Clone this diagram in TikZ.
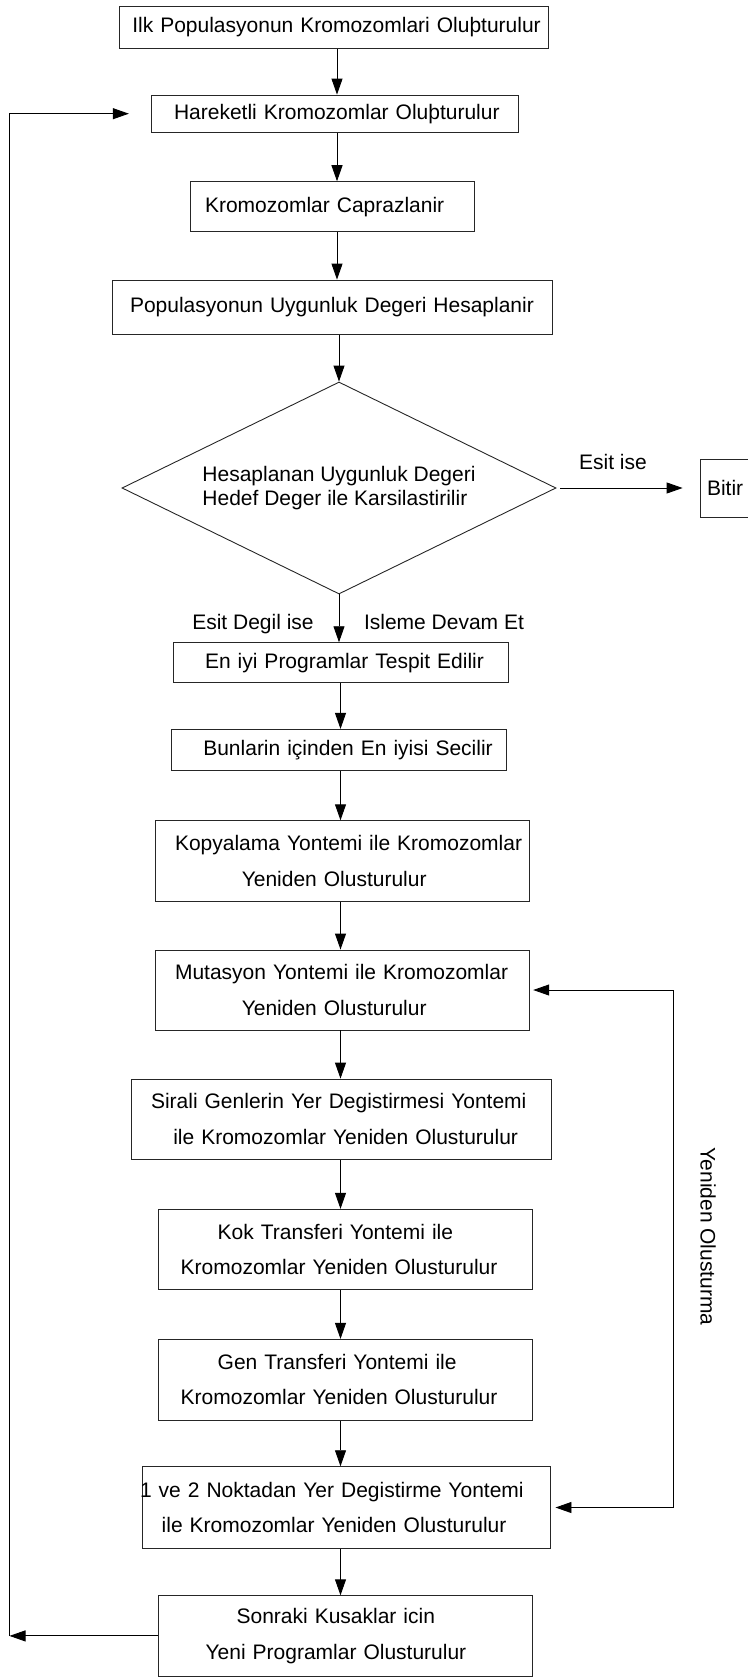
\documentclass[tikz,border=0pt]{standalone}
\usepackage{fontspec}
\setmainfont{Liberation Sans}
\usetikzlibrary{arrows.meta,shapes.geometric}

% one line of box text, indented from the left edge of its box
\newcommand{\boxline}[2]{\hspace*{#1pt}\mbox{#2}}
\newcommand{\boxfont}{\fontsize{21}{35.5}\selectfont}
\newcommand{\diafont}{\fontsize{21}{24}\selectfont}

\tikzset{
  box/.style={draw=black!85, line width=0.9pt, rectangle, inner sep=0pt,
              align=left, font=\boxfont},
  bw/.style={minimum width=#1, text width=#1},
  decision/.style={draw=black!85, line width=0.9pt, diamond, aspect=2.05,
                   inner sep=0pt, align=left, font=\diafont},
  lbl/.style={inner sep=0pt, font=\boxfont},
  arr/.style={line width=0.9pt, -{Triangle[length=16pt,width=11pt]}},
  arrboth/.style={line width=0.9pt,
                  {Triangle[length=16pt,width=11pt]}-{Triangle[length=16pt,width=11pt]}},
}

\begin{document}
\begin{tikzpicture}[x=1pt, y=-1pt]
  \useasboundingbox (0,0) rectangle (747,1677);

  % main column of process steps
  \node[box, bw=429pt, minimum height=42.7pt] (b1) at (333.8,27.35)
    {\boxline{13}{Ilk Populasyonun Kromozomlari Oluþturulur}};
  \node[box, bw=367pt, minimum height=37.3pt] (b2) at (335.2,113.7)
    {\boxline{22.3}{Hareketli Kromozomlar Oluþturulur}};
  \node[box, bw=284.3pt, minimum height=50pt] (b3) at (332.2,206.7)
    {\boxline{15}{Kromozomlar Caprazlanir}};
  \node[box, bw=439.6pt, minimum height=54.3pt] (b4) at (332.5,307.2)
    {\boxline{17.3}{Populasyonun Uygunluk Degeri Hesaplanir}};

  % decision
  \node[decision, minimum width=434pt, minimum height=212pt] (dia) at (339,488)
    {Hesaplanan Uygunluk Degeri\\Hedef Deger ile Karsilastirilir};

  \node[box, anchor=west, bw=100pt, minimum height=58pt] (bitir) at (700,488)
    {\boxline{6.6}{Bitir}};

  \node[box, bw=335pt, minimum height=40pt] (b5) at (340.8,662.7)
    {\boxline{31.7}{En iyi Programlar Tespit Edilir}};
  \node[box, bw=335pt, minimum height=40.7pt] (b6) at (339.2,749.7)
    {\boxline{31.6}{Bunlarin içinden En iyisi Secilir}};
  \node[box, bw=374.3pt, minimum height=80.3pt] (b7) at (342.2,860.9)
    {\boxline{20}{Kopyalama Yontemi ile Kromozomlar}\\
     \boxline{86.7}{Yeniden Olusturulur}};
  \node[box, bw=374.3pt, minimum height=80pt] (b8) at (342.2,990)
    {\boxline{20}{Mutasyon Yontemi ile Kromozomlar}\\
     \boxline{86.7}{Yeniden Olusturulur}};
  \node[box, bw=419.3pt, minimum height=80.3pt] (b9) at (341.35,1119.2)
    {\boxline{19.3}{Sirali Genlerin Yer Degistirmesi Yontemi}\\
     \boxline{41.6}{ile Kromozomlar Yeniden Olusturulur}};
  \node[box, bw=374.4pt, minimum height=80pt] (b10) at (345.5,1249.3)
    {\boxline{59.4}{Kok Transferi Yontemi ile}\\
     \boxline{22.4}{Kromozomlar Yeniden Olusturulur}};
  \node[box, bw=374.4pt, minimum height=80.7pt] (b11) at (345.5,1379.7)
    {\boxline{59.4}{Gen Transferi Yontemi ile}\\
     \boxline{22.4}{Kromozomlar Yeniden Olusturulur}};
  \node[box, bw=407.3pt, minimum height=81.6pt] (b12) at (346.35,1507.5)
    {\boxline{-2.7}{1 ve 2 Noktadan Yer Degistirme Yontemi}\\
     \boxline{19}{ile Kromozomlar Yeniden Olusturulur}};
  \node[box, bw=373.8pt, minimum height=80.3pt] (b13) at (345.5,1635.9)
    {\boxline{78}{Sonraki Kusaklar icin}\\
     \boxline{47}{Yeni Programlar Olusturulur}};

  % connector labels
  \node[lbl, anchor=base] (esit) at (613,469.5) {Esit ise};
  \node[lbl, anchor=base] (degil) at (253,629.2) {Esit Degil ise};
  \node[lbl, anchor=base] (devam) at (444,629.2) {Isleme Devam Et};
  \node[lbl, rotate=-90] (yeniden) at (708,1236.5) {Yeniden Olusturma};

  % axes of the vertical connectors and the two loops
  \coordinate (ua) at (337,0);
  \coordinate (la) at (340.5,0);
  \coordinate (lx) at (9.5,0);
  \coordinate (rx) at (673,0);

  % upper column
  \draw[arr] (b1.south -| ua) -- (b2.north -| ua);
  \draw[arr] (b2.south -| ua) -- (b3.north -| ua);
  \draw[arr] (b3.south -| ua) -- (b4.north -| ua);
  \draw[arr] (b4.south -| dia.north) -- (dia.north);
  \draw[arr] (dia.south) -- (b5.north -| dia.south);
  \draw[arr] ([xshift=3.6pt]dia.east) -- ([xshift=-17.4pt]bitir.west);

  % lower column
  \draw[arr] (b5.south -| la) -- (b6.north -| la);
  \draw[arr] (b6.south -| la) -- (b7.north -| la);
  \draw[arr] (b7.south -| la) -- (b8.north -| la);
  \draw[arr] (b8.south -| la) -- (b9.north -| la);
  \draw[arr] (b9.south -| la) -- (b10.north -| la);
  \draw[arr] (b10.south -| la) -- (b11.north -| la);
  \draw[arr] (b11.south -| la) -- (b12.north -| la);
  \draw[arr] (b12.south -| la) -- (b13.north -| la);

  % regeneration bracket on the right
  \draw[arrboth] ([xshift=3.4pt]b8.east) -- (b8.east -| rx)
                 -- (b12.east -| rx) -- ([xshift=5pt]b12.east);

  % next-generation loop on the left
  \draw[arr] (b13.west) -- (b13.west -| lx);
  \draw[arr] (b13.west -| lx) -- (b2.west -| lx) -- ([xshift=-22.4pt]b2.west);
\end{tikzpicture}
\end{document}
